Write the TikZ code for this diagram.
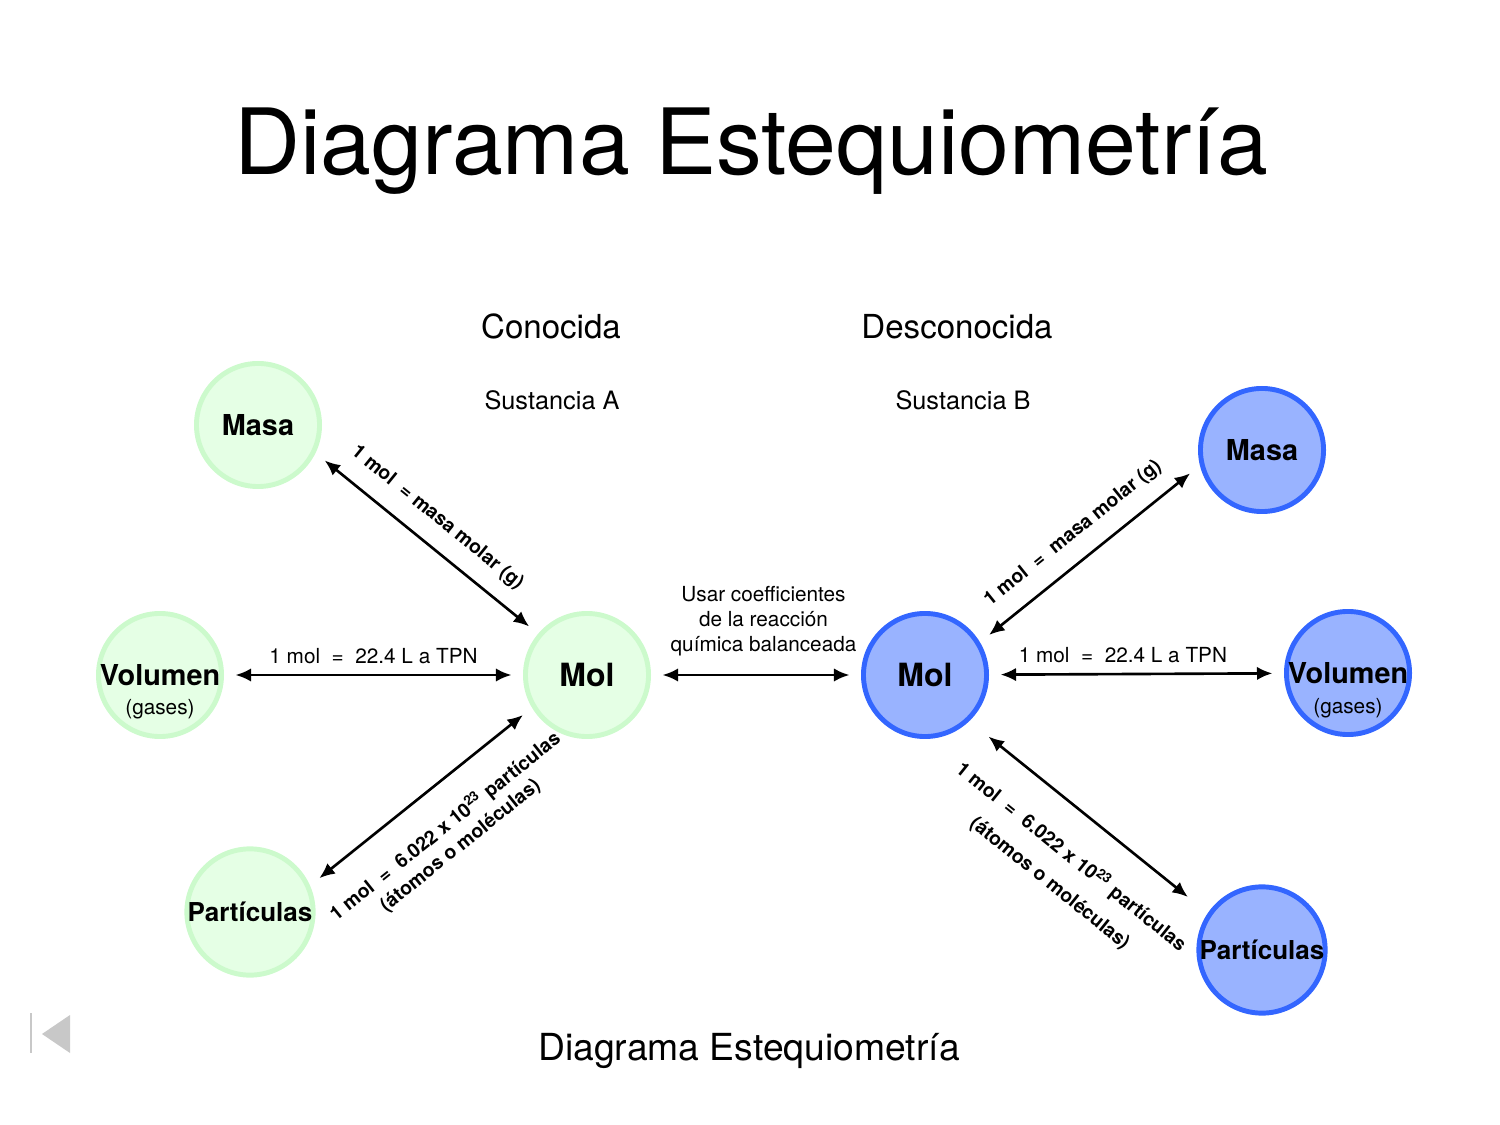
\documentclass[tikz,border=0pt]{standalone}
\usepackage{fontspec}
\setmainfont{TeX Gyre Heros}
\usetikzlibrary{arrows.meta}
\definecolor{verdefondo}{RGB}{229,255,229}
\definecolor{verdeborde}{RGB}{204,250,204}
\definecolor{azulfondo}{RGB}{153,179,255}
\definecolor{azulborde}{RGB}{51,102,255}
\definecolor{gris}{RGB}{200,200,200}
\newcommand{\tam}[2]{\fontsize{#1}{#2}\selectfont}
\begin{document}
\begin{tikzpicture}[x=0.01cm, y=-0.01cm,
  conocida/.style={circle, draw=verdeborde, fill=verdefondo, line width=1.4pt,
    minimum size=1.23cm, inner sep=0pt, outer sep=0.14cm, font=\bfseries\tam{8.2}{10}},
  desconocida/.style={conocida, draw=azulborde, fill=azulfondo},
  flecha/.style={{Latex[length=4.4pt,width=3.8pt]}-{Latex[length=4.4pt,width=3.8pt]}, line width=0.75pt},
  etiqueta/.style={font=\tam{5.9}{7.1}, inner sep=1.5pt},
  etiquetab/.style={etiqueta, font=\bfseries\tam{5.5}{6.8}, align=center}]
  \useasboundingbox (0,0) rectangle (1500,1125);
  % titulos
  \node[anchor=base, font=\tam{26}{31}] (titulo) at (751,175) {Diagrama Estequiometría};
  \node[anchor=base, font=\tam{9.4}{11}] (conocida) at (551,339) {Conocida};
  \node[anchor=base, font=\tam{9.4}{11}] (desconocida) at (957,339) {Desconocida};
  \node[anchor=base, font=\tam{7.2}{9}] (sustA) at (552,410) {Sustancia A};
  \node[anchor=base, font=\tam{7.2}{9}] (sustB) at (963,410) {Sustancia B};
  % sustancia A
  \node[conocida] (masaA) at (258,425) {Masa};
  \node[conocida] (volA) at (160,675) {Volumen};
  \node[conocida, font=\bfseries\tam{9.1}{11}] (molA) at (587,675) {Mol};
  \node[conocida, font=\bfseries\tam{7.4}{9}] (partA) at (250,912) {Partículas};
  \node[etiqueta] (gasesA) at (160,709) {(gases)};
  % sustancia B
  \node[desconocida] (masaB) at (1262,450) {Masa};
  \node[desconocida, font=\bfseries\tam{9.1}{11}] (molB) at (925,675) {Mol};
  \node[desconocida] (volB) at (1348,673) {Volumen};
  \node[desconocida, font=\bfseries\tam{7.4}{9}] (partB) at (1262,950) {Partículas};
  \node[etiqueta] (gasesB) at (1348,708) {(gases)};
  % conversiones
  \draw[flecha] (masaA.-28) -- (molA.140)
    node[pos=0.47, sloped, above=3pt, etiquetab] {1 mol\ \ = masa molar (g)};
  \draw[flecha] (volA) -- (molA)
    node[midway, above=1.2pt, etiqueta] {1 mol\ \ =\ \ 22.4 L a TPN};
  \draw[flecha] (partA.26) -- (molA.-148)
    node[midway, sloped, below=6pt, etiquetab] {1 mol\ \ =\ \ 6.022 x 10\textsuperscript{23} partículas\\(átomos o moléculas)};
  \draw[flecha] (molA) -- (molB)
    node[pos=0.54, above=3.6pt, etiqueta, align=center] {Usar coefficientes\\de la reacción\\química balanceada};
  \draw[flecha] (molB.32) -- (masaB.-162)
    node[midway, sloped, above=3pt, etiquetab] {1 mol\ \ =\ \ masa molar (g)};
  \draw[flecha] (molB) -- (volB)
    node[pos=0.45, above=1.2pt, etiqueta] {1 mol\ \ =\ \ 22.4 L a TPN};
  \draw[flecha, shorten <=0.13cm, shorten >=0.14cm] (molB.-45) -- (partB.145)
    node[pos=0.54, sloped, below=7pt, etiquetab, font=\bfseries\tam{5.5}{9.5}] {1 mol\ \ =\ \ 6.022 x 10\textsuperscript{23} partículas\\(átomos o moléculas)};
  % pie
  \node[anchor=base, font=\tam{10.6}{13}] (pie) at (749,1060) {Diagrama Estequiometría};
  \draw[gris, line width=0.6pt] (31,1013) -- (31,1053);
  \fill[gris] (42,1034) -- (70,1015) -- (70,1053) -- cycle;
\end{tikzpicture}
\end{document}
